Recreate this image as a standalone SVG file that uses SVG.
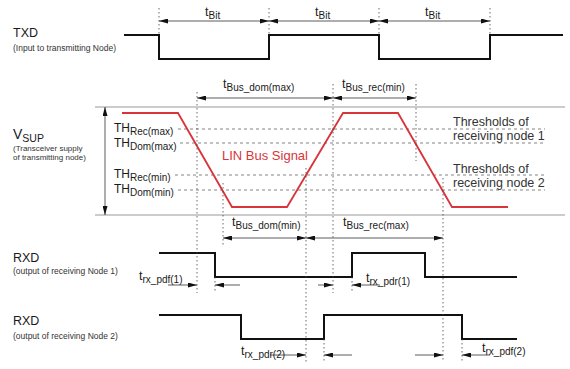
<svg xmlns="http://www.w3.org/2000/svg" width="570" height="369" viewBox="0 0 570 369">
<defs>
<marker id="ah" viewBox="0 0 9 5" refX="9" refY="2.5" markerWidth="9" markerHeight="5" markerUnits="userSpaceOnUse" orient="auto-start-reverse">
<path d="M0,0 L9,2.5 L0,5 z" fill="#111"/>
</marker>
</defs>
<style>
text{font-family:"Liberation Sans",Arial,sans-serif;fill:#1a1a1a}
.big{font-size:12.5px}
.small{font-size:8.5px;fill:#333}
.tiny{font-size:8px;fill:#333}
.t{font-size:12.5px}
.sub{font-size:10px}
.thr{font-size:12.5px;fill:#333}
.sig{fill:none;stroke:#111;stroke-width:2}
.bus{fill:none;stroke:#d8343a;stroke-width:1.8;stroke-linejoin:miter}
.dot{stroke:#444;stroke-width:0.8;stroke-dasharray:1.5 2.5;fill:none}
.dash{stroke:#666;stroke-width:0.8;stroke-dasharray:3 3;fill:none}
.rail{stroke:#999;stroke-width:1;fill:none}
.arr{stroke:#333;stroke-width:0.8;fill:none;marker-end:url(#ah)}
.darr{stroke:#333;stroke-width:0.8;fill:none;marker-end:url(#ah);marker-start:url(#ah)}
</style>
<rect width="570" height="369" fill="#fff"/>

<g id="txd">
<text class="big" x="13" y="37">TXD</text>
<text class="small" x="13" y="51">(Input to transmitting Node)</text>
<path class="sig" d="M124,35 H159 V59 H269 V35 H379 V59 H490 V35 H563"/>
</g>

<g id="vsup">
<path class="rail" d="M95,107 H565 M95,215 H565"/>
<text x="13" y="139" style="font-size:14px">V<tspan style="font-size:10.5px" dy="3">SUP</tspan></text>
<text class="tiny" x="13" y="150.5">(Transceiver supply</text>
<text class="tiny" x="13" y="159.5">of transmitting node)</text>
</g>

<g id="thresholds">
<text x="114" y="132" style="font-size:12px">TH<tspan class="sub" dy="3">Rec(max)</tspan></text>
<text x="114" y="147" style="font-size:12px">TH<tspan class="sub" dy="3">Dom(max)</tspan></text>
<text x="114" y="178" style="font-size:12px">TH<tspan class="sub" dy="3">Rec(min)</tspan></text>
<text x="114" y="193" style="font-size:12px">TH<tspan class="sub" dy="3">Dom(min)</tspan></text>
<path class="dash" d="M178,129 H545 M180,143 H545 M175,175 H545 M178,190 H545"/>
<text class="thr" x="453" y="126">Thresholds of</text>
<text class="thr" x="453" y="140">receiving node 1</text>
<text class="thr" x="453" y="173">Thresholds of</text>
<text class="thr" x="453" y="187">receiving node 2</text>
</g>

<g id="bus-signal">
<path class="bus" d="M122,113 H178 L232,207 H287 L343,113 H398 L452,207 H508"/>
<text x="222" y="160" style="font-size:13px;fill:#d8343a">LIN Bus Signal</text>
</g>

<g id="rxd1">
<text class="big" x="13" y="262">RXD</text>
<text class="small" x="13" y="274">(output of receiving Node 1)</text>
<path class="sig" d="M159,253 H215 V277 H352 V253 H425 V277 H517"/>
</g>

<g id="rxd2">
<text class="big" x="13" y="325">RXD</text>
<text class="small" x="13" y="339">(output of receiving Node 2)</text>
<path class="sig" d="M159,315 H241 V339 H324 V315 H462 V339 H517"/>
</g>

<g id="connectors">
<path class="dot" d="M159,8 V35 M269,8 V35 M379,8 V35 M490,8 V35"/>
<path class="dot" d="M197,92 V293 M333,84 V293 M416,84 V161 M223,183 V246 M306,168 V362 M443,178 V362 M215,277 V293 M352,277 V293 M324,339 V362 M462,339 V362"/>
<path class="darr" d="M159,21 H269"/>
<path class="darr" d="M269,21 H379"/>
<path class="darr" d="M379,21 H490"/>
<path class="darr" d="M197,98 H333"/>
<path class="darr" d="M333,98 H416"/>
<path class="darr" d="M105,107 V215"/>
<path class="darr" d="M223,238 H306"/>
<path class="darr" d="M306,238 H443"/>
<path class="arr" d="M168,285 H197"/>
<path class="arr" d="M240,285 H215"/>
<path class="arr" d="M318,285 H333"/>
<path class="arr" d="M380,285 H352"/>
<path class="arr" d="M270,355 H306"/>
<path class="arr" d="M352,355 H324"/>
<path class="arr" d="M415,355 H443"/>
<path class="arr" d="M490,355 H462"/>
</g>

<g id="labels">
<text class="t" x="205" y="16">t<tspan class="sub" dy="2.5">Bit</tspan></text>
<text class="t" x="315" y="16">t<tspan class="sub" dy="2.5">Bit</tspan></text>
<text class="t" x="425" y="16">t<tspan class="sub" dy="2.5">Bit</tspan></text>
<text class="t" x="223" y="88">t<tspan class="sub" dy="3">Bus_dom(max)</tspan></text>
<text class="t" x="342" y="88">t<tspan class="sub" dy="3">Bus_rec(min)</tspan></text>
<text class="t" x="232" y="226">t<tspan class="sub" dy="3">Bus_dom(min)</tspan></text>
<text class="t" x="343" y="226">t<tspan class="sub" dy="3">Bus_rec(max)</tspan></text>
<text class="t" x="139" y="280">t<tspan class="sub" dy="3">rx_pdf(1)</tspan></text>
<text class="t" x="366" y="282">t<tspan class="sub" dy="3">rx_pdr(1)</tspan></text>
<text class="t" x="241" y="355">t<tspan class="sub" dy="3">rx_pdr(2)</tspan></text>
<text class="t" x="482" y="352">t<tspan class="sub" dy="3">rx_pdf(2)</tspan></text>
</g>
</svg>
